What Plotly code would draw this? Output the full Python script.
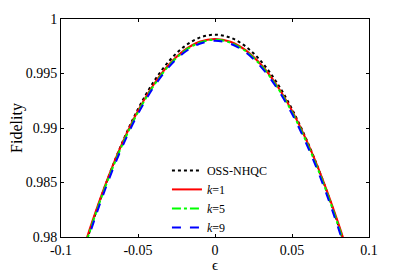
import plotly.graph_objects as go

eps = [-0.10, -0.09, -0.08, -0.07, -0.06, -0.05, -0.04, -0.03, -0.02, -0.01, 0.0,
       0.01, 0.02, 0.03, 0.04, 0.05, 0.06, 0.07, 0.08, 0.09, 0.10]

f_oss = [0.97129, 0.97647, 0.98111, 0.98520, 0.98874, 0.99174, 0.99420, 0.99611, 0.99747, 0.99829, 0.99856,
         0.99829, 0.99747, 0.99611, 0.99420, 0.99174, 0.98874, 0.98520, 0.98111, 0.97647, 0.97129]
f_k1 = [0.97180, 0.97681, 0.98129, 0.98525, 0.98868, 0.99158, 0.99395, 0.99580, 0.99712, 0.99791, 0.99817,
        0.99791, 0.99712, 0.99580, 0.99395, 0.99158, 0.98868, 0.98525, 0.98129, 0.97681, 0.97180]
f_k5 = [0.97150, 0.97655, 0.98108, 0.98507, 0.98852, 0.99145, 0.99384, 0.99571, 0.99704, 0.99783, 0.99810,
        0.99783, 0.99704, 0.99571, 0.99384, 0.99145, 0.98852, 0.98507, 0.98108, 0.97655, 0.97150]
f_k9 = [0.97120, 0.97629, 0.98085, 0.98487, 0.98835, 0.99130, 0.99371, 0.99559, 0.99693, 0.99773, 0.99800,
        0.99773, 0.99693, 0.99559, 0.99371, 0.99130, 0.98835, 0.98487, 0.98085, 0.97629, 0.97120]

names = ["OSS-NHQC", "<i>k</i>=1", "<i>k</i>=5", "<i>k</i>=9"]
series = [f_oss, f_k1, f_k5, f_k9]
colors = ["black", "#ff0000", "#00ff00", "#0000ff"]
dashes = ["dot", "solid", "dashdot", "dash"]

x_ticks = [-0.1, -0.05, 0, 0.05, 0.1]
x_ticklabels = ["-0.1", "-0.05", "0", "0.05", "0.1"]
y_ticks = [0.98, 0.985, 0.99, 0.995, 1.0]
y_ticklabels = ["0.98", "0.985", "0.99", "0.995", "1"]

fig = go.Figure()
for n, s, c, d in zip(names, series, colors, dashes):
    fig.add_trace(go.Scatter(x=eps, y=s, mode="lines", name=n,
                             line=dict(color=c, dash=d, width=2, shape="spline")))

font = "Liberation Serif"
# page body has an 8px default margin, so the figure is sized to fit the window
fig.update_layout(
    width=401, height=265,
    margin=dict(l=53, r=40, t=11, b=36, autoexpand=False),
    paper_bgcolor="white", plot_bgcolor="white",
    font=dict(family=font, size=14, color="black"),
    showlegend=True,
    legend=dict(x=0.344, y=0.372, xanchor="left", yanchor="top",
                bgcolor="rgba(0,0,0,0)", font=dict(family=font, size=12),
                tracegroupgap=0, itemwidth=30),
)
fig.update_xaxes(range=[-0.1, 0.1], tickvals=x_ticks, ticktext=x_ticklabels,
                 showline=True, linecolor="black", linewidth=1, mirror="ticks",
                 ticks="inside", ticklen=3, tickcolor="black", showgrid=False, zeroline=False,
                 title=dict(text="ϵ", standoff=2, font=dict(size=15)))
fig.update_yaxes(range=[0.98, 1.0], tickvals=y_ticks, ticktext=y_ticklabels,
                 showline=True, linecolor="black", linewidth=1, mirror="ticks",
                 ticks="inside", ticklen=3, tickcolor="black", showgrid=False, zeroline=False,
                 title=dict(text="Fidelity", standoff=4, font=dict(size=16)))

fig.write_html("out.html")
